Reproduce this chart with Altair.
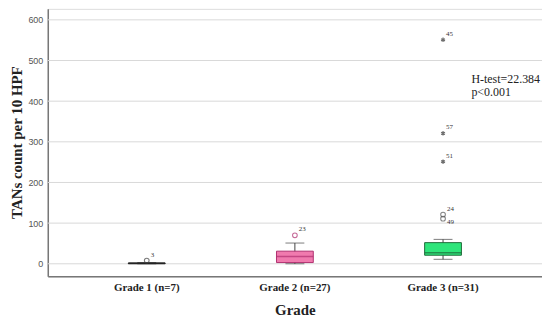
import altair as alt
import pandas as pd

# ---- data ----
groups = ["Grade 1 (n=7)", "Grade 2 (n=27)", "Grade 3 (n=31)"]
whisker_low = [0, 0, 11]
q1 = [0, 3, 21]
median = [1, 18, 27]
q3 = [2, 31, 52]
whisker_high = [3, 51, 60]
box_fill = ["#333333", "#F07AAE", "#2EE57A"]
box_stroke = ["#222222", "#B03070", "#1F6B3A"]

# mild outliers (open circles)
out_group = ["Grade 1 (n=7)", "Grade 2 (n=27)", "Grade 3 (n=31)", "Grade 3 (n=31)"]
out_value = [8, 70, 121, 111]
out_label = ["3", "23", "24", "49"]
out_color = ["#444444", "#B03070", "#555555", "#555555"]
out_label_pos = ["above", "above", "above", "below"]

# extreme outliers (asterisks)
ext_group = ["Grade 3 (n=31)", "Grade 3 (n=31)", "Grade 3 (n=31)"]
ext_value = [551, 321, 251]
ext_label = ["45", "57", "51"]

y_ticks = [0, 100, 200, 300, 400, 500, 600]
stat_lines = ["H-test=22.384", "p<0.001"]

box_df = pd.DataFrame({
    "group": groups, "lo": whisker_low, "q1": q1, "med": median,
    "q3": q3, "hi": whisker_high, "fill": box_fill, "stroke": box_stroke,
})
out_df = pd.DataFrame({"group": out_group, "value": out_value,
                       "label": out_label, "color": out_color, "pos": out_label_pos})
ext_df = pd.DataFrame({"group": ext_group, "value": ext_value, "label": ext_label})

serif = "Liberation Serif"

x_enc = alt.X(
    "group:N", sort=groups,
    scale=alt.Scale(domain=groups, paddingInner=0, paddingOuter=0.168),
    axis=alt.Axis(
        title="Grade", titleFont=serif, titleFontSize=15, titleFontWeight="bold",
        titleColor="#222222", titlePadding=10,
        labelFont=serif, labelFontSize=11, labelFontWeight="bold", labelColor="#222222",
        labelAngle=0, labelPadding=5, ticks=False, domainColor="#777777", domainWidth=1.5,
        grid=False,
    ),
)
y_scale = alt.Scale(domain=[-31, 627], nice=False, zero=False)

base = alt.Chart(box_df)

grid = alt.Chart(pd.DataFrame({"v": y_ticks})).mark_rule(color="#d9d9d9", strokeWidth=1).encode(
    y=alt.Y("v:Q", scale=y_scale,
            axis=alt.Axis(
                values=y_ticks, title="TANs count per 10 HPF", titleFont=serif,
                titleFontSize=15, titleFontWeight="bold", titleColor="#222222",
                titleAngle=-90, titleX=-31, titleY=134, titleAlign="center",
                titleBaseline="middle",
                labelFont="Liberation Sans", labelFontSize=9, labelColor="#555555",
                labelPadding=5, ticks=False, domainColor="#777777", domainWidth=1.5,
                grid=False,
            )),
    x=alt.value(0), x2=alt.value(497),
)

whisk = base.mark_rule(color="#444444", strokeWidth=1).encode(
    x=x_enc, y=alt.Y("lo:Q", scale=y_scale), y2="hi:Q")

caps_hi = base.mark_tick(color="#444444", size=19, thickness=1).encode(
    x=alt.X("group:N", sort=groups), y=alt.Y("hi:Q", scale=y_scale))
caps_lo = base.mark_tick(color="#444444", size=19, thickness=1).encode(
    x=alt.X("group:N", sort=groups), y=alt.Y("lo:Q", scale=y_scale))

boxes = base.mark_bar(size=37, strokeWidth=1).encode(
    x=alt.X("group:N", sort=groups), y=alt.Y("q1:Q", scale=y_scale), y2="q3:Q",
    fill=alt.Fill("fill:N", scale=None), stroke=alt.Stroke("stroke:N", scale=None))

meds = base.mark_tick(size=37, thickness=1.5).encode(
    x=alt.X("group:N", sort=groups), y=alt.Y("med:Q", scale=y_scale),
    color=alt.Color("stroke:N", scale=None))

outs = alt.Chart(out_df).mark_point(shape="circle", size=22, filled=False, strokeWidth=1.1).encode(
    x=alt.X("group:N", sort=groups), y=alt.Y("value:Q", scale=y_scale),
    color=alt.Color("color:N", scale=None))

out_txt_above = alt.Chart(out_df).transform_filter(alt.datum.pos == "above").mark_text(
    font=serif, fontSize=7, align="left", dx=4, dy=-6, color="#333333").encode(
    x=alt.X("group:N", sort=groups), y=alt.Y("value:Q", scale=y_scale), text="label:N")
out_txt_below = alt.Chart(out_df).transform_filter(alt.datum.pos == "below").mark_text(
    font=serif, fontSize=7, align="left", dx=4, dy=3, color="#333333").encode(
    x=alt.X("group:N", sort=groups), y=alt.Y("value:Q", scale=y_scale), text="label:N")

star_path = "M0,-1L0,1M-0.87,-0.5L0.87,0.5M-0.87,0.5L0.87,-0.5"
exts = alt.Chart(ext_df).mark_point(shape=star_path, size=20, strokeWidth=1.2,
                                     color="#333333").encode(
    x=alt.X("group:N", sort=groups), y=alt.Y("value:Q", scale=y_scale))

ext_txt = alt.Chart(ext_df).mark_text(font=serif, fontSize=7, align="left", dx=3, dy=-6,
                                      color="#333333").encode(
    x=alt.X("group:N", sort=groups), y=alt.Y("value:Q", scale=y_scale), text="label:N")

stat1 = alt.Chart(pd.DataFrame({"t": [stat_lines[0]]})).mark_text(
    font=serif, fontSize=12, align="left", baseline="middle", color="#222222").encode(
    x=alt.value(426), y=alt.value(71), text="t:N")
stat2 = alt.Chart(pd.DataFrame({"t": [stat_lines[1]]})).mark_text(
    font=serif, fontSize=12, align="left", baseline="middle", color="#222222").encode(
    x=alt.value(426), y=alt.value(84), text="t:N")

chart = alt.layer(grid, whisk, caps_hi, caps_lo, boxes, meds, outs, out_txt_above,
                  out_txt_below, exts, ext_txt, stat1, stat2).properties(
    width=497, height=269,
    autosize=alt.AutoSizeParams(type="none"),
    padding={"left": 40, "top": 0, "right": 0, "bottom": 44},
).configure_view(stroke=None).configure(background="white")

chart.save("out.html", embed_options={"renderer": "svg", "actions": False})
